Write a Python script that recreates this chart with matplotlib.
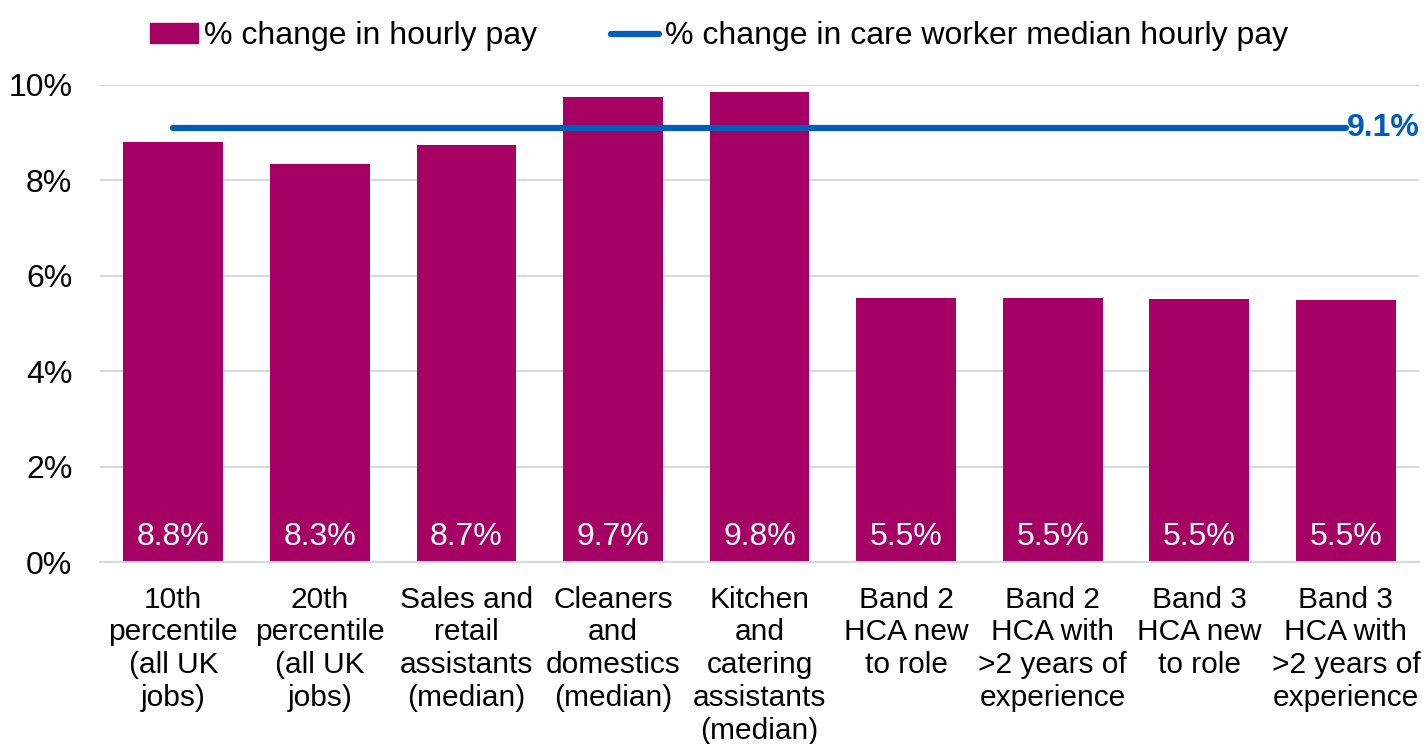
import matplotlib
matplotlib.use("Agg")
import matplotlib.pyplot as plt
from matplotlib.patches import Patch
from matplotlib.lines import Line2D

categories = [
    "10th\npercentile\n(all UK\njobs)",
    "20th\npercentile\n(all UK\njobs)",
    "Sales and\nretail\nassistants\n(median)",
    "Cleaners\nand\ndomestics\n(median)",
    "Kitchen\nand\ncatering\nassistants\n(median)",
    "Band 2\nHCA new\nto role",
    "Band 2\nHCA with\n>2 years of\nexperience",
    "Band 3\nHCA new\nto role",
    "Band 3\nHCA with\n>2 years of\nexperience",
]
pay_change = [8.8, 8.35, 8.75, 9.75, 9.85, 5.53, 5.53, 5.51, 5.49]
bar_labels = ["8.8%", "8.3%", "8.7%", "9.7%", "9.8%", "5.5%", "5.5%", "5.5%", "5.5%"]
care_median = 9.1
care_label = "9.1%"
yticks = [0, 2, 4, 6, 8, 10]
ytick_labels = ["0%", "2%", "4%", "6%", "8%", "10%"]

BAR = "#A50064"
LINE = "#005EB8"
GRID = "#D9D9D9"

plt.rcParams["font.family"] = ["Liberation Sans", "DejaVu Sans"]
fs = 23
fs_cat = 21.5

fig = plt.figure(figsize=(14.27, 7.44), dpi=100)
ax = fig.add_axes([0.0701, 0.2446, 0.9244, 0.6412])

x = list(range(len(categories)))
ax.bar(x, pay_change, width=0.68, color=BAR, zorder=2)
ax.plot([x[0], x[-1]], [care_median] * 2, color=LINE, lw=4.5,
        solid_capstyle="round", zorder=3)
ax.annotate(care_label, (x[-1], care_median), xytext=(1, 0),
            textcoords="offset points", ha="left", va="center",
            color=LINE, fontsize=fs, fontweight="bold")

for xi, lab in zip(x, bar_labels):
    ax.annotate(lab, (xi, 0), xytext=(0, 7.5), textcoords="offset points",
                ha="center", va="bottom", color="white", fontsize=fs)

ax.set_xlim(-0.5, len(categories) - 0.5)
ax.set_ylim(0, 10)
ax.set_yticks(yticks)
ax.set_yticklabels(ytick_labels, fontsize=fs)
ax.set_xticks(x)
ax.set_xticklabels(categories, fontsize=fs_cat, linespacing=1.22)
ax.tick_params(axis="y", length=0, pad=20)
ax.tick_params(axis="x", length=0, pad=17)
ax.grid(axis="y", color=GRID, lw=1.5, zorder=0)
ax.set_axisbelow(True)
for s in ["top", "right", "left"]:
    ax.spines[s].set_visible(False)
ax.spines["bottom"].set_color(GRID)
ax.spines["bottom"].set_linewidth(1.5)

handles = [Patch(facecolor=BAR, edgecolor=BAR),
           Line2D([0], [0], color=LINE, lw=4.5, solid_capstyle="round")]
labels = ["% change in hourly pay", "% change in care worker median hourly pay"]
fig.legend(handles, labels, loc="upper center", bbox_to_anchor=(0.504, 1.01),
           ncol=2, frameon=False, fontsize=fs, handlelength=1.5,
           handletextpad=0.2, columnspacing=2.3, handleheight=0.6)

fig.savefig("out.png", dpi=100)
